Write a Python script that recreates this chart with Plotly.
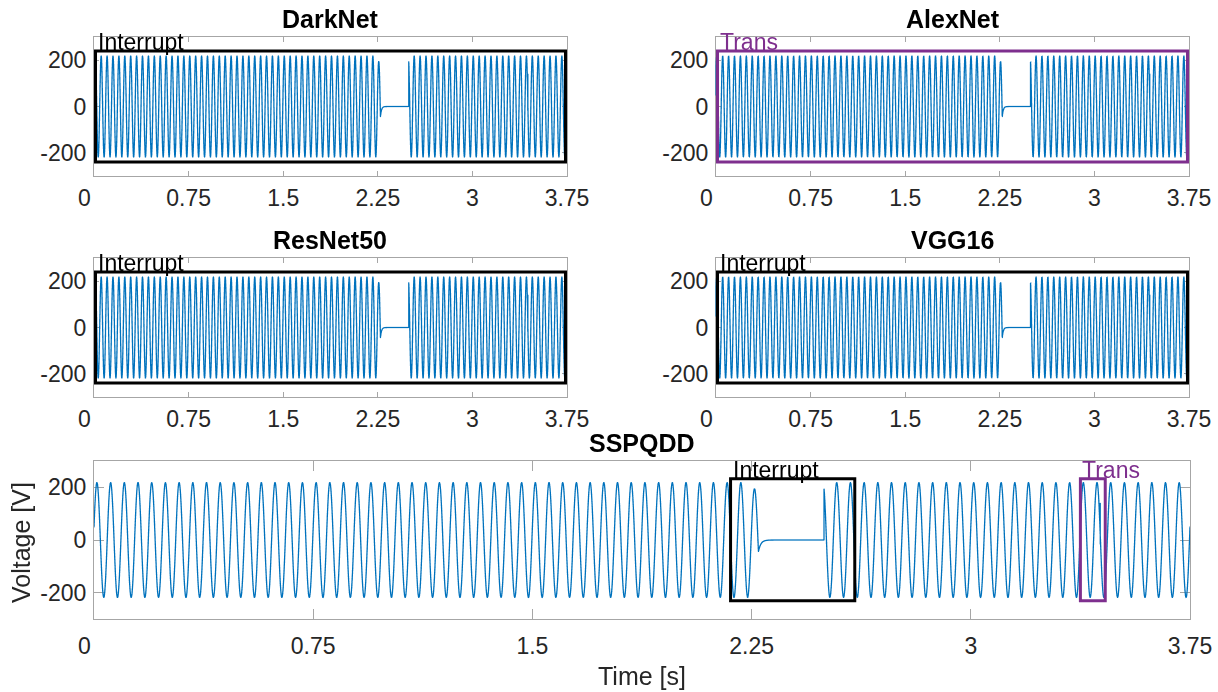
import numpy as np
import plotly.graph_objects as go

# ---- signal description (voltage waveform with an interruption and a transient) ----
T_END = 3.75                 # s
SAMPLE_STEP = 0.0004         # s
AMPLITUDE = 218.0            # V
CYCLES = 80                  # full cycles over the record
PHASE = 0.23                 # rad
SAG_START = 2.2366           # s, amplitude starts to sag
SAG_DEPTH = 0.89             # amplitude factor reached at the last peak
SAG_PEAK = 2.260             # s
CUT_TIME = 2.2735            # s, supply interrupted
CUT_VALUE = -44.0            # V
DECAY_TAU = 0.008            # s
RESTORE_TIME = 2.498         # s, supply restored
GLITCH_TIME = 3.443          # s, switching transient
GLITCH_HIGH = 139.0          # V
GLITCH_LOW = -15.0           # V

panel_titles = ["DarkNet", "AlexNet", "ResNet50", "VGG16", "SSPQDD"]
panel_labels = ["Interrupt", "Trans", "Interrupt", "Interrupt"]
x_tick_vals = [0, 0.75, 1.5, 2.25, 3, 3.75]
x_tick_text = ["0\u00a0\u00a0\u00a0", "0.75", "1.5", "2.25", "3", "3.75"]
y_tick_vals = [-200, 0, 200]
y_tick_text = ["-200", "0", "200"]

# detection boxes: (x0, x1, y0, y1)
top_box = (0.012, 3.738, -240, 240)
interrupt_box = (2.178, 2.603, -231, 233)
trans_box = (3.375, 3.460, -231, 233)

BLUE = "#0072BD"
PURPLE = "#7E2F8E"
TEXT = "#262626"
AXIS = "#a6a6a6"
FONT = "Liberation Sans, Arial, sans-serif"

W, H = 1218, 692


def build_signal():
    freq = CYCLES / T_END
    t = np.arange(0, T_END + SAMPLE_STEP / 2, SAMPLE_STEP)
    env = np.ones_like(t)
    sag = (t >= SAG_START) & (t < CUT_TIME)
    env[sag] = 1 - (1 - SAG_DEPTH) * np.clip((t[sag] - SAG_START) / (SAG_PEAK - SAG_START), 0, 1)
    v = env * AMPLITUDE * np.sin(2 * np.pi * freq * t + PHASE)
    off = (t >= CUT_TIME) & (t < RESTORE_TIME)
    v[off] = CUT_VALUE * np.exp(-(t[off] - CUT_TIME) / DECAY_TAU)
    # transient spike
    i = np.searchsorted(t, GLITCH_TIME)
    t = np.concatenate([t[:i], [GLITCH_TIME, GLITCH_TIME], t[i:]])
    v = np.concatenate([v[:i], [GLITCH_HIGH, GLITCH_LOW], v[i:]])
    return t, v


t, v = build_signal()

# pixel boxes of the five axes: (left, right, top, bottom)
boxes = [
    (94, 567, 37, 176),
    (716, 1189, 37, 176),
    (94, 567, 258, 397),
    (716, 1189, 258, 397),
    (94, 1190, 461, 619),
]

fig = go.Figure()
layout = dict(
    width=W, height=H, margin=dict(l=0, r=0, t=0, b=0, pad=0, autoexpand=False),
    paper_bgcolor="white", plot_bgcolor="white", showlegend=False,
    font=dict(family=FONT, color=TEXT),
)
annotations = []
shapes = []

for k, (l, r, tp, bt) in enumerate(boxes):
    n = "" if k == 0 else str(k + 1)
    big = k == 4
    fig.add_trace(go.Scattergl(
        x=t, y=v, mode="lines", line=dict(color=BLUE, width=1.3),
        xaxis="x" + n, yaxis="y" + n, hoverinfo="skip",
    ))
    common = dict(showgrid=False, zeroline=False, showline=True, linecolor=AXIS,
                  linewidth=1, mirror="ticks", ticks="inside", tickcolor=AXIS,
                  ticklen=10 if big else 5, tickwidth=1, automargin=False,
                  tickfont=dict(family=FONT, size=23, color=TEXT))
    layout["xaxis" + n] = dict(common, domain=[l / W, r / W], range=[0, T_END],
                               anchor="y" + n, tickvals=x_tick_vals, ticktext=x_tick_text,
                               ticklabelstandoff=(6 if big else 1))
    layout["yaxis" + n] = dict(common, domain=[1 - bt / H, 1 - tp / H], range=[-300, 300],
                               anchor="x" + n, tickvals=y_tick_vals, ticktext=y_tick_text,
                               ticklabelstandoff=2)
    # panel title
    annotations.append(dict(
        text="<b>%s</b>" % panel_titles[k], xref="paper", yref="paper",
        x=(l + r) / 2 / W, y=1 - (tp - 18) / H, xanchor="center", yanchor="middle",
        showarrow=False, font=dict(family=FONT, size=25, color="black"),
    ))
    if not big:
        color = PURPLE if panel_labels[k] == "Trans" else "black"
        x0, x1, y0, y1 = top_box
        shapes.append(dict(type="rect", xref="x" + n, yref="y" + n, x0=x0, x1=x1, y0=y0, y1=y1,
                           line=dict(color=color, width=3), fillcolor="rgba(0,0,0,0)"))
        annotations.append(dict(
            text=panel_labels[k], xref="x" + n, yref="y" + n, x=x0, y=y1,
            xanchor="left", yanchor="bottom", yshift=-6, showarrow=False,
            font=dict(family=FONT, size=23, color=color),
        ))
    else:
        for (x0, x1, y0, y1), label, color in [(interrupt_box, "Interrupt", "black"),
                                               (trans_box, "Trans", PURPLE)]:
            shapes.append(dict(type="rect", xref="x5", yref="y5", x0=x0, x1=x1, y0=y0, y1=y1,
                               line=dict(color=color, width=3), fillcolor="rgba(0,0,0,0)"))
            annotations.append(dict(
                text=label, xref="x5", yref="y5", x=x0, y=y1,
                xanchor="left", yanchor="bottom", yshift=-6, showarrow=False,
                font=dict(family=FONT, size=23, color=color),
            ))

# axis titles of the bottom panel
annotations.append(dict(text="Time [s]", xref="paper", yref="paper", x=642 / W, y=1 - 676 / H,
                        xanchor="center", yanchor="middle", showarrow=False,
                        font=dict(family=FONT, size=25, color=TEXT)))
annotations.append(dict(text="Voltage [V]", xref="paper", yref="paper", x=21 / W, y=1 - 543 / H,
                        xanchor="center", yanchor="middle", textangle=-90, showarrow=False,
                        font=dict(family=FONT, size=25, color=TEXT)))

layout["annotations"] = annotations
layout["shapes"] = shapes
fig.update_layout(**layout)
fig.write_html("out.html")
